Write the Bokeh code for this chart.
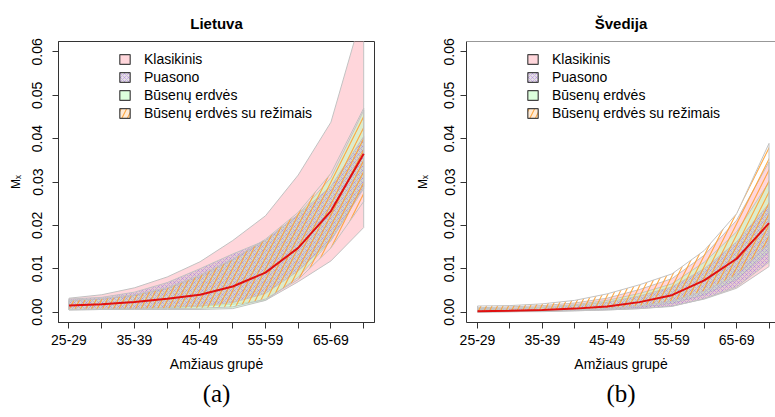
from bokeh.plotting import figure
from bokeh.layouts import row
from bokeh.models import (FixedTicker, PrintfTickFormatter, Range1d, Legend, LegendItem,
                          Title, Span)
from bokeh.embed import file_html
from bokeh.resources import INLINE

# ---------------- data ----------------
age_groups = ["25-29", "30-34", "35-39", "40-44", "45-49",
              "50-54", "55-59", "60-64", "65-69", "70-74"]
age_pos = list(range(1, 11))
y_ticks = [0.0, 0.01, 0.02, 0.03, 0.04, 0.05, 0.06]

# Lietuva
lt_klas_lo = [0.0005, 0.0006, 0.0008, 0.0010, 0.0013, 0.0018, 0.0027, 0.0070, 0.0118, 0.0195]
lt_klas_hi = [0.0032, 0.0040, 0.0056, 0.0081, 0.0116, 0.0165, 0.0222, 0.0316, 0.0438, 0.0700]
lt_puas_lo = [0.0005, 0.0006, 0.0008, 0.0011, 0.0014, 0.0022, 0.0043, 0.0095, 0.0165, 0.0285]
lt_puas_hi = [0.0030, 0.0034, 0.0046, 0.0068, 0.0100, 0.0134, 0.0165, 0.0225, 0.0290, 0.0405]
lt_bus_lo = [0.0006, 0.0006, 0.0006, 0.0006, 0.0006, 0.0008, 0.0027, 0.0080, 0.0165, 0.0290]
lt_bus_hi = [0.0026, 0.0030, 0.0038, 0.0054, 0.0082, 0.0120, 0.0165, 0.0225, 0.0310, 0.0465]
lt_rez_lo = [0.0006, 0.0007, 0.0007, 0.0008, 0.0009, 0.0012, 0.0030, 0.0075, 0.0148, 0.0255]
lt_rez_hi = [0.0027, 0.0031, 0.0040, 0.0056, 0.0085, 0.0122, 0.0168, 0.0230, 0.0320, 0.0470]
lt_mx = [0.0015, 0.0018, 0.0023, 0.0031, 0.0040, 0.0059, 0.0091, 0.0148, 0.0233, 0.0365]

# Švedija
se_klas_lo = [0.0000, 0.0001, 0.0001, 0.0003, 0.0005, 0.0008, 0.0014, 0.0030, 0.0055, 0.0105]
se_klas_hi = [0.0010, 0.0012, 0.0015, 0.0021, 0.0032, 0.0052, 0.0077, 0.0131, 0.0212, 0.0346]
se_puas_lo = [0.0000, 0.0001, 0.0002, 0.0003, 0.0005, 0.0008, 0.0013, 0.0031, 0.0058, 0.0115]
se_puas_hi = [0.0006, 0.0007, 0.0010, 0.0015, 0.0023, 0.0037, 0.0058, 0.0100, 0.0162, 0.0250]
se_bus_lo = [0.0001, 0.0001, 0.0002, 0.0004, 0.0006, 0.0011, 0.0020, 0.0040, 0.0075, 0.0140]
se_bus_hi = [0.0008, 0.0009, 0.0012, 0.0017, 0.0027, 0.0043, 0.0065, 0.0115, 0.0185, 0.0300]
se_rez_lo = [0.0001, 0.0002, 0.0003, 0.0005, 0.0008, 0.0014, 0.0025, 0.0048, 0.0085, 0.0160]
se_rez_hi = [0.0014, 0.0015, 0.0019, 0.0027, 0.0042, 0.0063, 0.0088, 0.0142, 0.0227, 0.0389]
se_mx = [0.0002, 0.0003, 0.0005, 0.0008, 0.0013, 0.0023, 0.0039, 0.0073, 0.0123, 0.0205]

legend_labels = ["Klasikinis", "Puasono", "Būsenų erdvės", "Būsenų erdvės su režimais"]

FONT = "Liberation Sans"
BORDER = "#c2c2c2"
FRAME = "#333333"

STYLES = {
    "klas": dict(fill_color="#FFC0C8", fill_alpha=0.65),
    "puas": dict(fill_color="#C8BEC2", fill_alpha=0.45, hatch_pattern="x",
                 hatch_color="#A066E8", hatch_scale=4, hatch_weight=1, hatch_alpha=0.42),
    "bus": dict(fill_color="#BFFFBF", fill_alpha=0.55),
    "rez": dict(fill_alpha=0.0, hatch_pattern="/", hatch_color="#FFA030",
                hatch_scale=11, hatch_weight=1.1, hatch_alpha=0.9),
}
KEYS = ["klas", "puas", "bus", "rez"]


def poly(lo, hi):
    return age_pos + age_pos[::-1], lo + hi[::-1]


def make_panel(title, caption, cap_offset, bands, mx, width, x_range,
               border_left, border_right, full_box, ylab_standoff, tick_standoff):
    p = figure(width=width, height=417, output_backend="svg", toolbar_location=None,
               x_range=Range1d(*x_range), y_range=Range1d(-0.0024, 0.0624),
               min_border_left=border_left, min_border_right=border_right,
               min_border_top=41, min_border_bottom=95)
    p.extra_y_ranges = {"hidden": Range1d(10.0, 11.0)}
    p.grid.visible = False
    p.background_fill_color = "white"
    p.border_fill_color = "white"
    if full_box:
        p.outline_line_color = FRAME
        p.outline_line_width = 1
    else:
        p.outline_line_color = None
        p.add_layout(Span(location=p.y_range.end, dimension="width",
                          line_color=FRAME, line_width=1))

    p.title.text = title
    p.title.align = "center"
    p.title.vertical_align = "top"
    p.title.text_font = FONT
    p.title.text_font_size = "15px"
    p.title.text_font_style = "bold"
    p.title.text_color = "black"
    p.title.standoff = 16

    draw_order = ["klas", "bus", "puas", "rez"]
    for key in draw_order:
        lo, hi = bands[key]
        xs, ys = poly(lo, hi)
        p.patch(xs, ys, line_color=BORDER, line_width=1, **STYLES[key])
    p.line(age_pos, mx, line_color="#E01010", line_width=2)

    # axes
    xa = p.below[0]
    xa.ticker = FixedTicker(ticks=age_pos)
    xa.major_label_overrides = {i: (age_groups[i - 1] if i % 2 == 1 else "") for i in age_pos}
    xa.axis_label = "Amžiaus grupė"
    ya = p.left[0]
    ya.ticker = FixedTicker(ticks=y_ticks)
    ya.formatter = PrintfTickFormatter(format="%.2f")
    ya.major_label_orientation = "vertical"
    ya.axis_label = "Mₓ"
    ya.axis_label_text_font_size = "12px"
    ya.axis_label_standoff = ylab_standoff
    for ax in (xa, ya):
        ax.axis_line_color = FRAME
        ax.major_tick_line_color = FRAME
        ax.minor_tick_line_color = None
        ax.major_tick_out = 6
        ax.major_tick_in = 0
        ax.major_label_text_font = FONT
        ax.major_label_text_font_size = "14px"
        ax.major_label_text_color = "black"
        ax.axis_label_text_font = FONT
        ax.axis_label_text_font_style = "normal"
        ax.axis_label_text_color = "black"
    xa.axis_label_text_font_size = "14px"
    xa.major_label_standoff = 6
    xa.axis_label_standoff = 8
    ya.major_label_standoff = tick_standoff

    # legend: copies of the bands with a dark border, drawn on a hidden range
    items = []
    for lab, key in zip(legend_labels, KEYS):
        st = dict(STYLES[key])
        if key == "rez":
            st["fill_color"] = "#FFEBD6"
            st["fill_alpha"] = 1.0
        lo, hi = bands[key]
        xs, ys = poly(lo, hi)
        r = p.patch(xs, ys, line_color="#444444", line_width=1.2,
                    y_range_name="hidden", **st)
        items.append(LegendItem(label=lab, renderers=[r]))
    leg = Legend(items=items, location=(60, 201), padding=0, margin=0, spacing=1,
                 border_line_color=None, background_fill_alpha=0.0,
                 glyph_width=13, glyph_height=12, label_height=17,
                 label_standoff=13,
                 label_text_font=FONT, label_text_font_size="14px", label_text_color="black")
    p.add_layout(leg, "center")

    cap = Title(text=caption, align="center", text_font="Liberation Serif",
                text_font_size="25px", text_font_style="normal", text_color="black",
                offset=cap_offset, standoff=6)
    p.add_layout(cap, "below")
    return p


lt_bands = {"klas": (lt_klas_lo, lt_klas_hi), "puas": (lt_puas_lo, lt_puas_hi),
            "bus": (lt_bus_lo, lt_bus_hi), "rez": (lt_rez_lo, lt_rez_hi)}
se_bands = {"klas": (se_klas_lo, se_klas_hi), "puas": (se_puas_lo, se_puas_hi),
            "bus": (se_bus_lo, se_bus_hi), "rez": (se_rez_lo, se_rez_hi)}

p1 = make_panel("Lietuva", "(a)", -16, lt_bands, lt_mx, 388, (0.68, 10.33),
                58, 14, True, 7, 10)
p2 = make_panel("Švedija", "(b)", -12, se_bands, se_mx, 387, (0.66, 10.20),
                78, 0, False, 12, 6)

layout = row(p1, p2)
open("out.html", "w").write(file_html(layout, INLINE))
